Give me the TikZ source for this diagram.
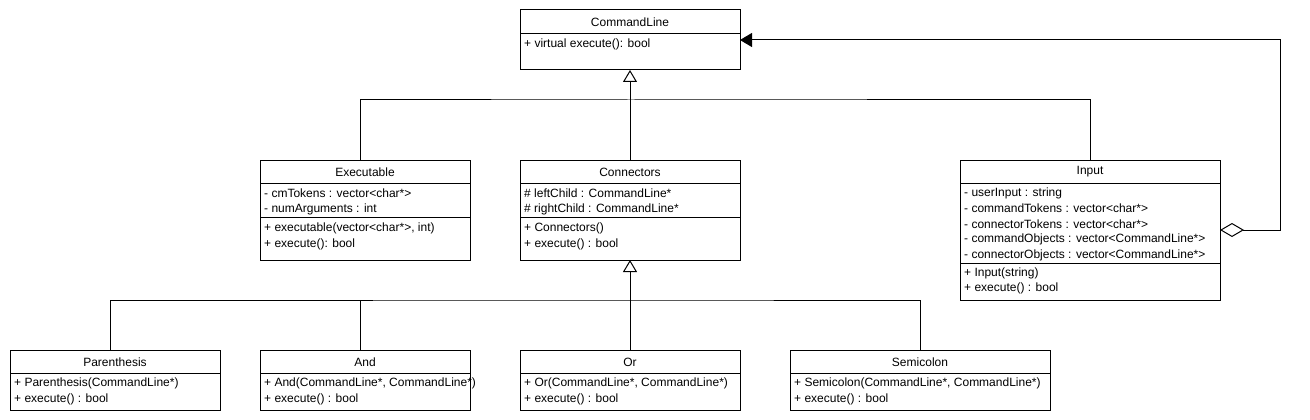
\documentclass[tikz,border=0pt]{standalone}
\usepackage{fontspec}
\setmainfont{Liberation Sans}
\usetikzlibrary{arrows.meta}
\begin{document}
\begin{tikzpicture}[x=1pt,y=-1pt,
  box/.style={draw, line width=1pt, anchor=north west, inner sep=0pt, outer sep=0pt},
  ttl/.style={font=\fontsize{12}{14}\selectfont, inner sep=0pt},
  mem/.style={font=\fontsize{12}{14}\selectfont, inner sep=0pt, anchor=west},
  ln/.style={line width=1pt},
  gen/.style={ln, -{Triangle[open, length=12pt, width=14pt]}},
  agg/.style={ln, {Diamond[open, length=24pt, width=14pt]}-{Triangle[length=12pt, width=14pt]}}]
\useasboundingbox[fill=white] (0,0) rectangle (1310,420);

% CommandLine
\node[box, minimum width=220pt, minimum height=60pt] (cl) at (520,10) {};
\node[ttl] (clt) at (630,22) {CommandLine};
\draw[ln] (520,34) -- (740,34);
\node[mem] (clm1) at (524,44) {+ virtual execute(): bool};

% Executable
\node[box, minimum width=210pt, minimum height=100pt] (ex) at (260,160) {};
\node[ttl] (ext) at (365,172) {Executable};
\draw[ln] (260,183) -- (470,183);
\node[mem] (exa1) at (264,193) {- cmTokens : vector<char*>};
\node[mem] (exa2) at (264,209) {- numArguments : int};
\draw[ln] (260,217) -- (470,217);
\node[mem] (exm1) at (264,228) {+ executable(vector<char*>, int)};
\node[mem] (exm2) at (264,244) {+ execute(): bool};

% Connectors
\node[box, minimum width=220pt, minimum height=100pt] (con) at (520,160) {};
\node[ttl] (cont) at (630,172) {Connectors};
\draw[ln] (520,183) -- (740,183);
\node[mem] (cona1) at (524,193) {\# leftChild : CommandLine*};
\node[mem] (cona2) at (524,209) {\# rightChild : CommandLine*};
\draw[ln] (520,217) -- (740,217);
\node[mem] (conm1) at (524,228) {+ Connectors()};
\node[mem] (conm2) at (524,244) {+ execute() : bool};

% Input
\node[box, minimum width=260pt, minimum height=140pt] (inp) at (960,160) {};
\node[ttl] (inpt) at (1090,172) {Input};
\draw[ln] (960,183) -- (1220,183);
\node[mem] (inpa1) at (964,193) {- userInput : string};
\node[mem] (inpa2) at (964,208.5) {- commandTokens : vector<char*>};
\node[mem] (inpa3) at (964,224) {- connectorTokens : vector<char*>};
\node[mem] (inpa4) at (964,239.5) {- commandObjects : vector<CommandLine*>};
\node[mem] (inpa5) at (964,255) {- connectorObjects : vector<CommandLine*>};
\draw[ln] (960,263) -- (1220,263);
\node[mem] (inpm1) at (964,273) {+ Input(string)};
\node[mem] (inpm2) at (964,288) {+ execute() : bool};

% Parenthesis
\node[box, minimum width=210pt, minimum height=60pt] (par) at (10,350) {};
\node[ttl] (part) at (115,362) {Parenthesis};
\draw[ln] (10,373) -- (220,373);
\node[mem] (parm1) at (14,383) {+ Parenthesis(CommandLine*)};
\node[mem] (parm2) at (14,399) {+ execute() : bool};

% And
\node[box, minimum width=210pt, minimum height=60pt] (and) at (260,350) {};
\node[ttl] (andt) at (365,362) {And};
\draw[ln] (260,373) -- (470,373);
\node[mem] (andm1) at (264,383) {+ And(CommandLine*, CommandLine*)};
\node[mem] (andm2) at (264,399) {+ execute() : bool};

% Or
\node[box, minimum width=220pt, minimum height=60pt] (or) at (520,350) {};
\node[ttl] (ort) at (630,362) {Or};
\draw[ln] (520,373) -- (740,373);
\node[mem] (orm1) at (524,383) {+ Or(CommandLine*, CommandLine*)};
\node[mem] (orm2) at (524,399) {+ execute() : bool};

% Semicolon
\node[box, minimum width=260pt, minimum height=60pt] (semi) at (790,350) {};
\node[ttl] (semit) at (920,362) {Semicolon};
\draw[ln] (790,373) -- (1050,373);
\node[mem] (semim1) at (794,383) {+ Semicolon(CommandLine*, CommandLine*)};
\node[mem] (semim2) at (794,399) {+ execute() : bool};

% generalization to CommandLine
\coordinate (j1) at (630,100);
\draw[gen] (j1) -- (cl.south);
\draw[ln] ([xshift=-5pt]ex.north) |- (j1) -| (inp.north);
\draw[ln] (con.north) -- (j1);

% generalization to Connectors
\coordinate (j2) at (630,300);
\draw[gen] (j2) -- (con.south);
\draw[ln] ([xshift=-5pt]par.north) |- (j2) -| (semi.north);
\draw[ln] ([xshift=-5pt]and.north) -- ([xshift=-5pt]and.north |- j2);
\draw[ln] (or.north) -- (j2);

% aggregation Input -> CommandLine
\coordinate (a1) at (1280,40);
\draw[agg] (inp.east) -| (a1) -- (cl.east);
\end{tikzpicture}
\end{document}
